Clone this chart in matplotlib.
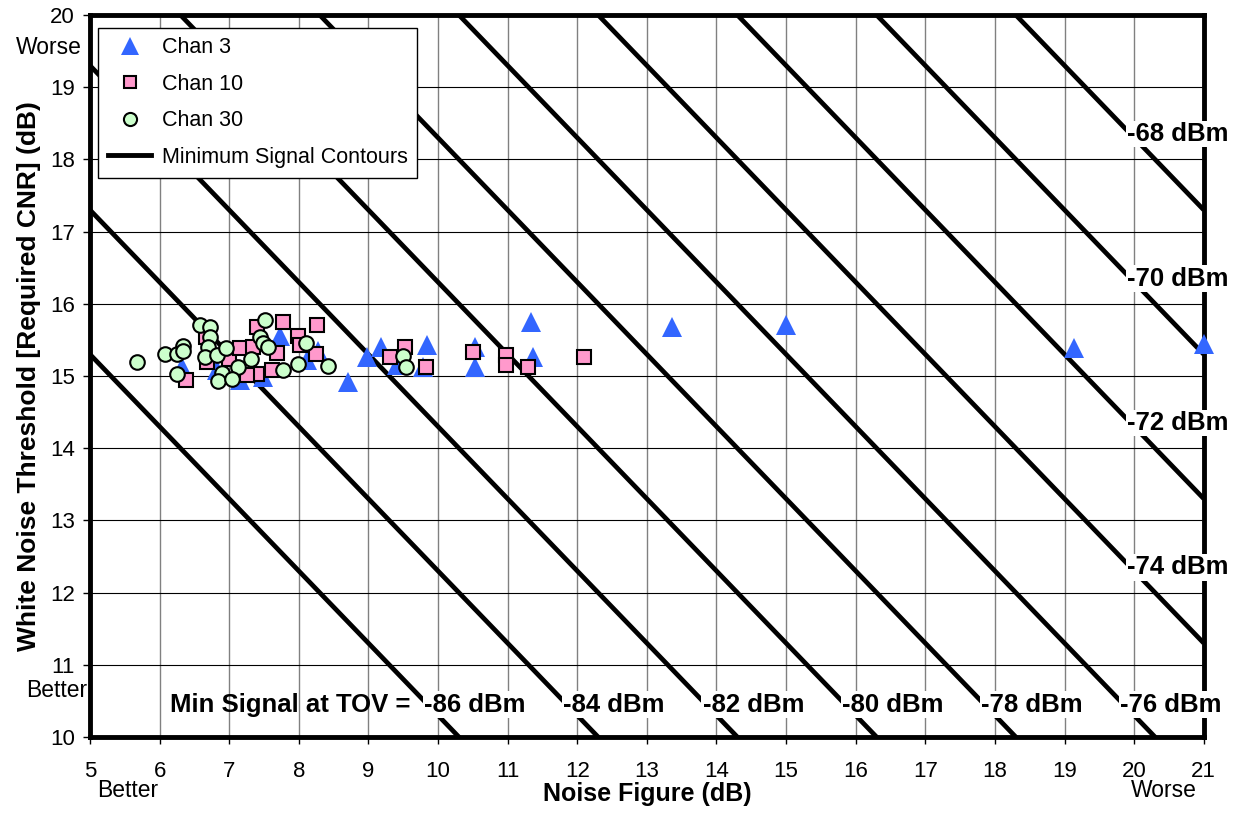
import numpy as np
import matplotlib
matplotlib.use("Agg")
from matplotlib import pyplot as plt

plt.rcParams["font.family"] = ["Liberation Sans", "DejaVu Sans"]

# Chan 3 (triangles)
chan3_nf = [6.32, 6.82, 7.15, 7.48, 7.73, 8.12, 8.27, 8.71, 8.98, 9.18, 9.41,
            9.84, 9.78, 10.53, 10.53, 11.33, 11.36, 13.36, 15.0, 19.13, 21.0]
chan3_cnr = [15.13, 15.08, 14.94, 14.98, 15.55, 15.22, 15.34, 14.92, 15.26, 15.40, 15.15,
             15.43, 15.13, 15.40, 15.12, 15.75, 15.26, 15.68, 15.71, 15.39, 15.45]

# Chan 10 (squares)
chan10_nf = [6.38, 6.66, 6.68, 7.00, 7.16, 7.34, 7.40, 7.77, 7.99, 8.02, 7.68, 7.62,
             7.40, 7.25, 8.26, 8.24, 9.31, 9.52, 9.83, 10.50, 10.97, 10.98, 11.29, 12.10]
chan10_cnr = [14.94, 15.54, 15.19, 15.23, 15.39, 15.40, 15.68, 15.75, 15.55, 15.43, 15.32, 15.08,
              15.03, 15.02, 15.71, 15.31, 15.26, 15.40, 15.13, 15.33, 15.29, 15.15, 15.13, 15.27]

# Chan 30 (circles)
chan30_nf = [5.67, 6.08, 6.25, 6.34, 6.34, 6.25, 6.58, 6.72, 6.72, 6.70, 6.65, 6.83, 6.96, 7.13,
             6.90, 6.84, 7.04, 7.31, 7.44, 7.52, 7.48, 7.56, 7.77, 7.99, 8.10, 8.42, 9.49, 9.54]
chan30_cnr = [15.20, 15.31, 15.30, 15.42, 15.34, 15.03, 15.71, 15.68, 15.54, 15.40, 15.27, 15.29, 15.39, 15.12,
              15.04, 14.93, 14.96, 15.23, 15.54, 15.77, 15.46, 15.40, 15.08, 15.17, 15.46, 15.14, 15.28, 15.13]

# minimum signal contours: NF + CNR = signal + offset
signal_levels = [-86, -84, -82, -80, -78, -76, -74, -72, -70, -68]
bottom_labels = [-86, -84, -82, -80, -78, -76]
right_labels = [-74, -72, -70, -68]
offset = 106.3

fig = plt.figure(figsize=(12.41, 8.15), dpi=100)
ax = fig.add_axes([0.0725, 0.0957, 0.8975, 0.8859])

# contour lines
nf_line = np.array([5.0, 21.0])
for s in signal_levels:
    ax.plot(nf_line, (s + offset) - nf_line, color="black", linewidth=3.4,
            solid_capstyle="butt", zorder=2)

# data
ax.plot(chan3_nf, chan3_cnr, linestyle="none", marker="^", markersize=14,
        color="#3366FF", markeredgewidth=0, label="Chan 3", zorder=3, clip_on=False)
ax.plot(chan10_nf, chan10_cnr, linestyle="none", marker="s", markersize=10,
        markerfacecolor="#FF99CC", markeredgecolor="black", markeredgewidth=1.5,
        label="Chan 10", zorder=4)
ax.plot(chan30_nf, chan30_cnr, linestyle="none", marker="o", markersize=10.5,
        markerfacecolor="#CCFFCC", markeredgecolor="black", markeredgewidth=1.5,
        label="Chan 30", zorder=5)
ax.plot([], [], color="black", linewidth=3.5, label="Minimum Signal Contours")

# contour labels
label_y = 10.45
lab_fs = 18.5
for s in bottom_labels:
    ax.text((s + offset) - label_y - 0.05, label_y, f"{s} dBm", fontsize=lab_fs,
            fontweight="bold", ha="left", va="center", zorder=6,
            bbox=dict(facecolor="white", edgecolor="none", pad=1.0), clip_on=False)
label_x = 19.95
for s in right_labels:
    ax.text(label_x - 0.05, (s + offset) - label_x, f"{s} dBm", fontsize=lab_fs,
            fontweight="bold", ha="left", va="center", zorder=6,
            bbox=dict(facecolor="white", edgecolor="none", pad=1.0), clip_on=False)
ax.text(9.6, label_y, "Min Signal at TOV =", fontsize=lab_fs, fontweight="bold",
        ha="right", va="center", zorder=6)

ax.set_xlim(5, 21)
ax.set_ylim(10, 20)
ax.set_xticks(range(5, 22))
ax.set_yticks(range(10, 21))
ax.tick_params(labelsize=16, length=5, width=1, pad=12, axis="x")
ax.tick_params(labelsize=16, length=5, width=1, pad=6, axis="y")
ax.grid(True, axis="x", color="#808080", linewidth=1, zorder=1)
ax.grid(True, axis="y", color="black", linewidth=0.8, zorder=1)
ax.set_axisbelow(True)
for sp in ax.spines.values():
    sp.set_linewidth(3.5)

ax.set_xlabel("Noise Figure (dB)", fontsize=18, fontweight="bold", labelpad=0)
ax.set_ylabel("White Noise Threshold [Required CNR] (dB)", fontsize=19,
              fontweight="bold", labelpad=6)

# better / worse annotations
ax.text(-0.007, 0.955, "Worse", transform=ax.transAxes, fontsize=16.5, ha="right", va="center")
ax.text(-0.002, 0.064, "Better", transform=ax.transAxes, fontsize=16.5, ha="right", va="center")
ax.text(0.034, -0.074, "Better", transform=ax.transAxes, fontsize=16.5, ha="center", va="center")
ax.text(0.964, -0.074, "Worse", transform=ax.transAxes, fontsize=16.5, ha="center", va="center")

leg = ax.legend(loc="upper left", bbox_to_anchor=(0.0075, 0.9825), borderaxespad=0,
                fontsize=15.5, fancybox=False, framealpha=1, edgecolor="black",
                borderpad=0.45, labelspacing=0.72, handlelength=2.0,
                handletextpad=0.5, markerscale=0.9)
leg.get_frame().set_linewidth(1)
leg.set_zorder(10)

plt.savefig("out.png", dpi=100)
